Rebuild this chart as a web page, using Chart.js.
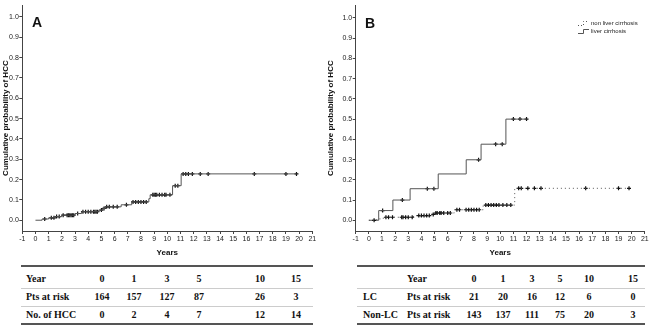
<!DOCTYPE html>
<html>
<head>
<meta charset="utf-8">
<script src="https://cdn.jsdelivr.net/npm/chart.js@4/dist/chart.umd.min.js"></script>
<style>
  body { margin: 0; background: #fff; }
  #page { position: relative; width: 650px; height: 331px; overflow: hidden; font-family: "Liberation Sans", Arial, sans-serif; }
  canvas { position: absolute; top: 0; }
  #chartA { left: 0; }
  #chartB { left: 325px; }
  .tag { position: absolute; font: bold 14px "Liberation Sans", Arial, sans-serif; color: #111; }
  .rule { position: absolute; height: 0; }
  .cell { position: absolute; font: bold 10px "Liberation Serif", "Times New Roman", serif; color: #111; line-height: 12px; white-space: nowrap; }
</style>
</head>
<body>
<div id="page">
  <canvas id="chartA" width="325" height="258"></canvas>
  <canvas id="chartB" width="325" height="258"></canvas>
  <div class="tag" style="left:32px;top:14px">A</div>
  <div class="tag" style="left:365px;top:15px">B</div>
  <div id="tableA"></div>
  <div id="tableB"></div>
</div>
<script>
// y axis ticks
const probTicks = [0, 0.1, 0.2, 0.3, 0.4, 0.5, 0.6, 0.7, 0.8, 0.9, 1.0];

// panel A: all patients
const allStepYears = [0, 0.5, 1.0, 1.5, 2.0, 3.0, 3.5, 4.8, 5.1, 5.3, 6.5, 7.3, 8.6, 8.7, 10.4, 11.05, 19.8];
const allStepProb  = [0, 0.006, 0.012, 0.018, 0.025, 0.033, 0.042, 0.050, 0.058, 0.066, 0.076, 0.090, 0.106, 0.125, 0.170, 0.228, 0.228];
const allCensorYears = [0.7, 1.2, 1.4, 1.6, 1.8, 2.1, 2.4, 2.5, 2.6, 2.7, 2.8, 2.9, 3.2, 3.6, 3.8, 4.0, 4.2, 4.4, 4.5, 4.6, 4.7,
  5.0, 5.2, 5.4, 5.6, 5.9, 6.2, 6.9, 7.4, 7.6, 7.8, 8.0, 8.2, 8.4, 8.9, 9.0, 9.1, 9.2, 9.4, 9.6, 9.8, 9.9, 10.2,
  10.6, 10.8, 11.2, 11.4, 11.6, 11.9, 12.5, 13.1, 16.6, 19.0, 19.8];

// panel B: liver cirrhosis
const lcStepYears = [0, 0.75, 1.83, 3.14, 5.28, 7.41, 8.54, 10.43, 12.0];
const lcStepProb  = [0, 0.048, 0.100, 0.156, 0.229, 0.299, 0.376, 0.500, 0.500];
const lcCensorYears = [1.05, 2.55, 4.45, 4.95, 8.35, 9.65, 10.15, 11.0, 11.5, 12.0];

// panel B: non liver cirrhosis
const nonLcStepYears = [0, 0.6, 1.1, 3.4, 4.8, 5.0, 6.5, 8.7, 11.1, 19.8];
const nonLcStepProb  = [0, 0.007, 0.015, 0.023, 0.029, 0.036, 0.052, 0.075, 0.158, 0.158];
const nonLcCensorYears = [0.4, 1.3, 1.5, 1.8, 2.5, 2.6, 2.8, 3.0, 3.3, 3.8, 4.0, 4.2, 4.4, 4.6, 4.9, 5.1, 5.2, 5.4, 5.5,
  5.7, 6.0, 6.2, 6.7, 6.9, 7.4, 7.6, 7.8, 8.0, 8.2, 8.4, 8.9, 9.1, 9.3, 9.5, 9.7, 9.9, 10.2, 10.5, 10.8,
  11.4, 11.6, 12.1, 12.6, 13.1, 16.5, 19.0, 19.8];

// risk tables
const tableYears = [0, 1, 3, 5, 10, 15];
const allAtRisk = [164, 157, 127, 87, 26, 3];
const allHcc = [0, 2, 4, 7, 12, 14];
const lcAtRisk = [21, 20, 16, 12, 6, 0];
const nonLcAtRisk = [143, 137, 111, 75, 20, 3];


function stepValueAt(years, probs, t) {
  let v = probs[0];
  for (let i = 0; i < years.length; i++) {
    if (years[i] <= t) v = probs[i];
  }
  return v;
}

function stepData(years, probs) {
  return years.map((x, i) => ({x: x, y: probs[i]}));
}

function censorData(cens, years, probs) {
  return cens.map(t => ({x: t, y: stepValueAt(years, probs, t)}));
}

function curve(data, dash, color) {
  return {
    type: 'line', data: data, stepped: true, borderColor: color, borderWidth: 1,
    borderDash: dash, pointRadius: 0, fill: false
  };
}

function marks(data) {
  return {
    type: 'line', data: data, showLine: false, pointStyle: 'cross',
    pointRadius: 2, pointBorderWidth: 1.2, pointBorderColor: '#111', borderColor: '#111'
  };
}

function makeOptions(yMin, yMax, axisWidth, padRight) {
  return {
    responsive: false,
    animation: false,
    devicePixelRatio: 1,
    layout: {padding: {left: 0, right: padRight, top: 0, bottom: 0}},
    plugins: {legend: {display: false}, tooltip: {enabled: false}},
    scales: {
      x: {
        type: 'linear', min: -1, max: 21,
        ticks: {stepSize: 1, autoSkip: false, maxRotation: 0, padding: 1, color: '#222',
          font: {size: 7, family: 'Liberation Sans'}},
        grid: {drawOnChartArea: false, drawTicks: true, tickLength: 3, color: '#444'},
        border: {color: '#444'},
        title: {display: true, text: 'Years', color: '#111', padding: 0,
          font: {size: 8, weight: 'bold', family: 'Liberation Sans'}},
        afterFit(s) { s.height = 27; s.paddingLeft = 0; s.paddingRight = 0; }
      },
      y: {
        type: 'linear', min: yMin, max: yMax,
        afterBuildTicks(s) { s.ticks = probTicks.map(v => ({value: v})); },
        ticks: {padding: 0.5, color: '#222', callback: v => v.toFixed(1),
          font: {size: 7, family: 'Liberation Sans'}},
        grid: {drawOnChartArea: false, drawTicks: true, tickLength: 3, color: '#444'},
        border: {color: '#444'},
        title: {display: true, text: 'Cumulative probability of HCC', color: '#111', padding: {top: 1, bottom: 0},
          font: {size: 8, weight: 'bold', family: 'Liberation Sans'}},
        afterFit(s) { s.width = axisWidth; s.paddingTop = 0; s.paddingBottom = 0; }
      }
    }
  };
}

const legendB = {
  id: 'legendB',
  afterDraw(chart) {
    const ctx = chart.ctx;
    ctx.save();
    ctx.lineWidth = 1;
    // dotted step icon
    ctx.strokeStyle = '#555';
    ctx.setLineDash([1, 2]);
    ctx.beginPath();
    ctx.moveTo(253, 25.5); ctx.lineTo(258.5, 25.5); ctx.lineTo(258.5, 21.5); ctx.lineTo(264, 21.5);
    ctx.stroke();
    // solid step icon
    ctx.setLineDash([]);
    ctx.beginPath();
    ctx.moveTo(253, 33.5); ctx.lineTo(258.5, 33.5); ctx.lineTo(258.5, 29.5); ctx.lineTo(264, 29.5);
    ctx.stroke();
    ctx.fillStyle = '#222';
    ctx.font = '6px "Liberation Sans"';
    ctx.textBaseline = 'middle';
    ctx.fillText('non liver cirrhosis', 266, 23);
    ctx.fillText('liver cirrhosis', 266, 31);
    ctx.restore();
  }
};

new Chart(document.getElementById('chartA'), {
  type: 'line',
  data: {datasets: [
    curve(stepData(allStepYears, allStepProb), [], '#555'),
    marks(censorData(allCensorYears, allStepYears, allStepProb))
  ]},
  options: makeOptions(-0.053, 1.058, 22.3, 12.7)
});

new Chart(document.getElementById('chartB'), {
  type: 'line',
  data: {datasets: [
    curve(stepData(nonLcStepYears, nonLcStepProb), [1, 3], '#555'),
    marks(censorData(nonLcCensorYears, nonLcStepYears, nonLcStepProb)),
    curve(stepData(lcStepYears, lcStepProb), [], '#555'),
    marks(censorData(lcCensorYears, lcStepYears, lcStepProb))
  ]},
  options: makeOptions(-0.053, 1.063, 30.7, 2.3),
  plugins: [legendB]
});

// risk tables as positioned text
function rule(parent, x1, x2, y, w, color) {
  const d = document.createElement('div');
  d.className = 'rule';
  d.style.left = x1 + 'px';
  d.style.width = (x2 - x1) + 'px';
  d.style.top = y + 'px';
  d.style.borderTop = w + 'px solid ' + color;
  parent.appendChild(d);
}

function cell(parent, text, x, y, align) {
  const d = document.createElement('div');
  d.className = 'cell';
  d.textContent = text;
  d.style.top = (y - 6) + 'px';
  if (align === 'left') {
    d.style.left = x + 'px';
  } else {
    d.style.left = (x - 30) + 'px';
    d.style.width = '60px';
    d.style.textAlign = 'center';
  }
  parent.appendChild(d);
}

const rowY = [279, 297, 315];

const tA = document.getElementById('tableA');
const colA = [102, 134, 167, 199, 260, 296];
rule(tA, 21, 313, 265, 2, '#555');
rule(tA, 21, 313, 288, 1, '#ccc');
rule(tA, 21, 313, 306, 1, '#ccc');
rule(tA, 21, 313, 323, 2, '#555');
[['Year', tableYears], ['Pts at risk', allAtRisk], ['No. of HCC', allHcc]].forEach((row, r) => {
  cell(tA, row[0], 26, rowY[r], 'left');
  row[1].forEach((v, c) => cell(tA, String(v), colA[c], rowY[r]));
});

const tB = document.getElementById('tableB');
const colB = [474, 503, 532, 560, 589, 633];
rule(tB, 357, 645, 265, 2, '#555');
rule(tB, 357, 645, 288, 1, '#ccc');
rule(tB, 357, 645, 306, 1, '#ccc');
rule(tB, 357, 645, 323, 2, '#555');
[['', 'Year', tableYears], ['LC', 'Pts at risk', lcAtRisk], ['Non-LC', 'Pts at risk', nonLcAtRisk]].forEach((row, r) => {
  if (row[0]) cell(tB, row[0], 363, rowY[r], 'left');
  cell(tB, row[1], 407, rowY[r], 'left');
  row[2].forEach((v, c) => cell(tB, String(v), colB[c], rowY[r]));
});
</script>
</body>
</html>
